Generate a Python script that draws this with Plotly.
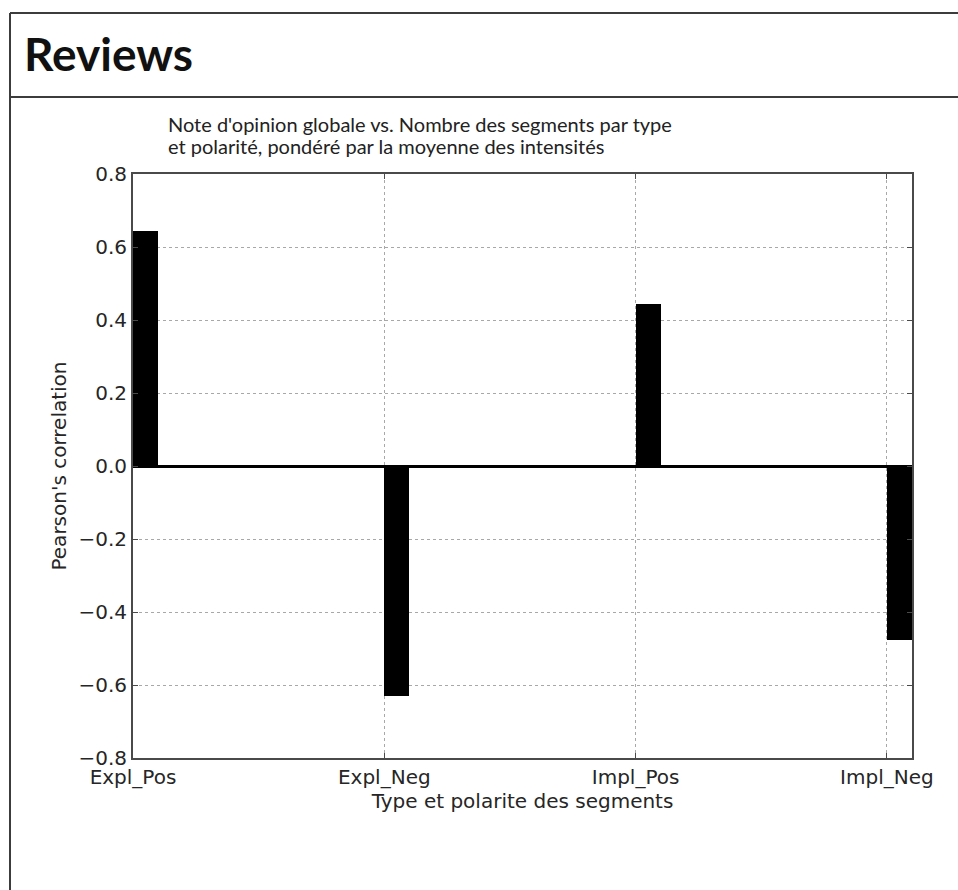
import plotly.graph_objects as go

# Segment categories and their Pearson correlation with the global opinion score
categories = ["Expl_Pos", "Expl_Neg", "Impl_Pos", "Impl_Neg"]
correlations = [0.644, -0.630, 0.444, -0.477]
y_ticks = [-0.8, -0.6, -0.4, -0.2, 0.0, 0.2, 0.4, 0.6, 0.8]
caption_lines = [
    "Note d'opinion globale vs. Nombre des segments par type",
    "et polarité, pondéré par la moyenne des intensités",
]

W, H = 958, 890
# plot box in pixels (left, right, top, bottom)
PL, PR, PT, PB = 133, 912, 174, 758

fig = go.Figure()
fig.add_trace(go.Bar(
    x=categories,
    y=correlations,
    width=0.1,
    offset=0,
    marker=dict(color="black", line=dict(width=0)),
    showlegend=False,
    hoverinfo="x+y",
))

text_color = "#262626"
tick_font = dict(family="DejaVu Sans", size=20, color=text_color)

fig.update_layout(
    width=W, height=H,
    margin=dict(l=0, r=0, t=0, b=0),
    paper_bgcolor="white",
    plot_bgcolor="white",
    bargap=0,
    xaxis=dict(
        domain=[PL / W, PR / W],
        range=[0, 3.1],
        type="category",
        automargin=False,
        showgrid=True, gridcolor="#a8a8a8", griddash="dot", gridwidth=1.2,
        showline=True, linecolor="#4a4a4a", linewidth=2, mirror="ticks",
        ticks="inside", ticklen=5, tickcolor="#4a4a4a",
        tickfont=tick_font,
        title=dict(text="Type et polarite des segments",
                   font=dict(family="DejaVu Sans", size=20, color=text_color),
                   standoff=6),
        zeroline=False,
    ),
    yaxis=dict(
        domain=[1 - PB / H, 1 - PT / H],
        range=[-0.8, 0.8],
        automargin=False,
        tickvals=y_ticks,
        tickformat=".1f",
        showgrid=True, gridcolor="#a8a8a8", griddash="dot", gridwidth=1.2,
        showline=True, linecolor="#4a4a4a", linewidth=2, mirror="ticks",
        ticks="inside", ticklen=5, tickcolor="#4a4a4a",
        tickfont=tick_font,
        zeroline=True, zerolinecolor="black", zerolinewidth=2.5,
        title=dict(text="Pearson's correlation",
                   font=dict(family="DejaVu Sans", size=20, color=text_color),
                   standoff=6),
    ),
    font=dict(family="DejaVu Sans"),
)

# Page frame: top border, header separator and left border
frame_line = dict(color="#3c3c3c", width=2)
fig.add_shape(type="line", xref="paper", yref="paper",
              x0=10 / W, x1=1, y0=1 - 13 / H, y1=1 - 13 / H, line=frame_line)
fig.add_shape(type="line", xref="paper", yref="paper",
              x0=10 / W, x1=1, y0=1 - 97 / H, y1=1 - 97 / H, line=frame_line)
fig.add_shape(type="line", xref="paper", yref="paper",
              x0=10 / W, x1=10 / W, y0=0, y1=1 - 13 / H, line=frame_line)

# Header title
fig.add_annotation(
    text="<b>Reviews</b>", xref="paper", yref="paper",
    x=22 / W, y=1 - 54 / H, xanchor="left", yanchor="middle",
    showarrow=False,
    font=dict(family="Lato", size=46, color="#111111"),
)

# Chart caption above the plot box, one annotation per line
for i, line in enumerate(caption_lines):
    fig.add_annotation(
        text=line,
        xref="paper", yref="paper",
        x=166 / W, y=1 - (124 + 22 * i) / H, xanchor="left", yanchor="middle",
        align="left", showarrow=False,
        font=dict(family="Lato", size=20, color="#222222"),
    )

fig.write_html("out.html")
